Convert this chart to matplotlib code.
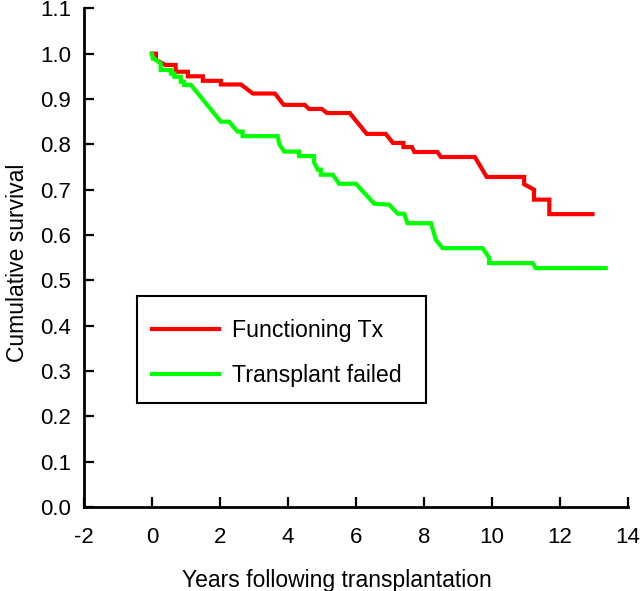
import matplotlib
matplotlib.use("Agg")
import matplotlib.pyplot as plt
from matplotlib.patches import Rectangle

# Kaplan-Meier style curves, vertices
tx_years = [0.0, 0.12, 0.12, 0.40, 0.70, 0.70, 1.06, 1.06, 1.50, 1.50, 2.03, 2.03,
            2.62, 2.97, 3.62, 3.88, 4.50, 4.62, 5.00, 5.15, 5.82, 6.32, 6.88, 7.09,
            7.40, 7.40, 7.65, 7.72, 8.40, 8.50, 9.50, 9.85, 10.95, 10.95, 11.24, 11.24,
            11.69, 11.69, 12.96]
tx_surv = [1.0, 1.0, 0.986, 0.975, 0.975, 0.960, 0.960, 0.950, 0.950, 0.940, 0.940, 0.932,
           0.932, 0.912, 0.912, 0.887, 0.887, 0.878, 0.878, 0.869, 0.869, 0.823, 0.823, 0.803,
           0.803, 0.794, 0.794, 0.783, 0.783, 0.772, 0.772, 0.728, 0.728, 0.712, 0.700, 0.678,
           0.678, 0.646, 0.646]

failed_years = [0.0, 0.03, 0.07, 0.26, 0.26, 0.56, 0.56, 0.66, 0.66, 0.85, 0.85, 0.95,
                0.95, 1.15, 2.03, 2.27, 2.52, 2.67, 2.67, 3.70, 3.75, 3.89, 4.33, 4.33,
                4.68, 4.77, 4.77, 4.88, 4.97, 4.97, 5.32, 5.51, 6.00, 6.54, 6.98, 7.23,
                7.42, 7.52, 8.21, 8.35, 8.55, 9.73, 9.92, 9.92, 11.20, 11.29, 13.35]
failed_surv = [1.0, 0.989, 0.989, 0.978, 0.964, 0.964, 0.956, 0.956, 0.949, 0.949, 0.938, 0.938,
               0.931, 0.931, 0.850, 0.850, 0.828, 0.828, 0.818, 0.818, 0.800, 0.784, 0.784, 0.774,
               0.774, 0.774, 0.760, 0.744, 0.744, 0.733, 0.733, 0.713, 0.713, 0.669, 0.667, 0.647,
               0.647, 0.626, 0.626, 0.590, 0.571, 0.571, 0.550, 0.538, 0.538, 0.527, 0.527]

x_ticks = [-2, 0, 2, 4, 6, 8, 10, 12, 14]
y_ticks = [0.0, 0.1, 0.2, 0.3, 0.4, 0.5, 0.6, 0.7, 0.8, 0.9, 1.0, 1.1]

plt.rcParams['font.family'] = ['Liberation Sans', 'DejaVu Sans']
fs = 16

fig = plt.figure(figsize=(6.4, 5.91), dpi=100)
ax = fig.add_axes([0.131, 0.142, 0.850, 0.844])

ax.plot(tx_years, tx_surv, color='#ff0000', lw=3, label='Functioning Tx',
        solid_joinstyle='miter')
ax.plot(failed_years, failed_surv, color='#00ff00', lw=3, label='Transplant failed',
        solid_joinstyle='miter')

ax.set_xlim(-2, 14)
ax.set_ylim(0, 1.1)
ax.set_xticks(x_ticks)
ax.set_xticklabels([str(t) for t in x_ticks])
ax.set_yticks(y_ticks)
ax.set_yticklabels(['%.1f' % t for t in y_ticks])
ax.tick_params(direction='in', length=7, width=1.6, labelsize=fs)
ax.tick_params(axis='x', pad=14)
ax.tick_params(axis='y', pad=9)

for s in ['top', 'right']:
    ax.spines[s].set_visible(False)
for s in ['left', 'bottom']:
    ax.spines[s].set_linewidth(2)

ax.set_xlabel('Years following transplantation', fontsize=fs + 0.5)
ax.set_ylabel('Cumulative survival', fontsize=fs + 0.5)
ax.xaxis.set_label_coords(0.465, -0.124)
ax.yaxis.set_label_coords(-0.1, 0.49)

# legend box drawn separately so the rows sit where they do in the original
ax.add_patch(Rectangle((0.097, 0.208), 0.532, 0.216, transform=ax.transAxes,
                       fill=False, edgecolor='black', lw=1.5, zorder=5))
leg = ax.legend(loc='center left', bbox_to_anchor=(0.125, 0.308), borderaxespad=0,
                fontsize=fs + 0.7, frameon=False, handlelength=2.9,
                handletextpad=0.55, labelspacing=0.95, borderpad=0)

plt.savefig('out.png', dpi=100)
